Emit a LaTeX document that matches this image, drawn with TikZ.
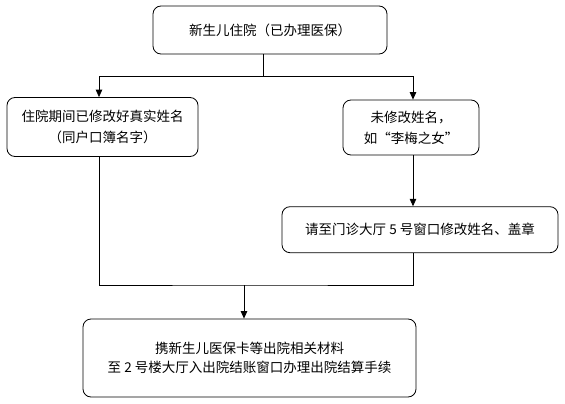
\documentclass[tikz,border=0pt]{standalone}
\usepackage{fontspec}
\newfontfamily\cjk{Noto Sans CJK SC}
\usetikzlibrary{arrows.meta}
\begin{document}
\begin{tikzpicture}[x=1pt,y=-1pt,
  box/.style={draw, line width=0.8pt, rounded corners=8pt, align=center, inner sep=0pt,
    font=\cjk\fontsize{13.5}{21}\selectfont},
  ln/.style={line width=0.8pt},
  arr/.style={line width=0.8pt, -{Triangle[width=6.5pt,length=7.5pt]}}]
\useasboundingbox (0,0) rectangle (565,404);
\node[box, minimum width=234pt, minimum height=48pt] (top) at (270,30) {新生儿住院（已办理医保）};
\node[box, minimum width=191pt, minimum height=59pt] (left) at (102.5,127) {住院期间已修改好真实姓名\\（同户口簿名字）};
\node[box, minimum width=136pt, minimum height=55pt] (right) at (411,127.5) {未修改姓名，\\如“李梅之女”};
\node[box, minimum width=276pt, minimum height=46pt] (mid) at (420,229.7) {请至门诊大厅 5 号窗口修改姓名、盖章};
\node[box, minimum width=333pt, minimum height=78pt, font=\cjk\fontsize{13.5}{19}\selectfont] (bot) at (249.5,358) {携新生儿医保卡等出院相关材料\\至 2 号楼大厅入出院结账窗口办理出院结算手续};
\coordinate (j1) at (263,76);
\coordinate (m) at (244,285);
\draw[ln] (top.south -| j1) -- (j1);
\draw[arr] (j1) -| ([xshift=-3.5pt]left.north);
\draw[arr] (j1) -| ([xshift=2pt]right.north);
\draw[arr] ([xshift=2pt]right.south) -- ([xshift=2pt]right.south |- mid.north);
\draw[ln] ([xshift=-3.5pt]left.south) |- (m) -| ([xshift=2pt]right.south |- mid.south);
\draw[arr] (m) -- (m |- bot.north);
\end{tikzpicture}
\end{document}
